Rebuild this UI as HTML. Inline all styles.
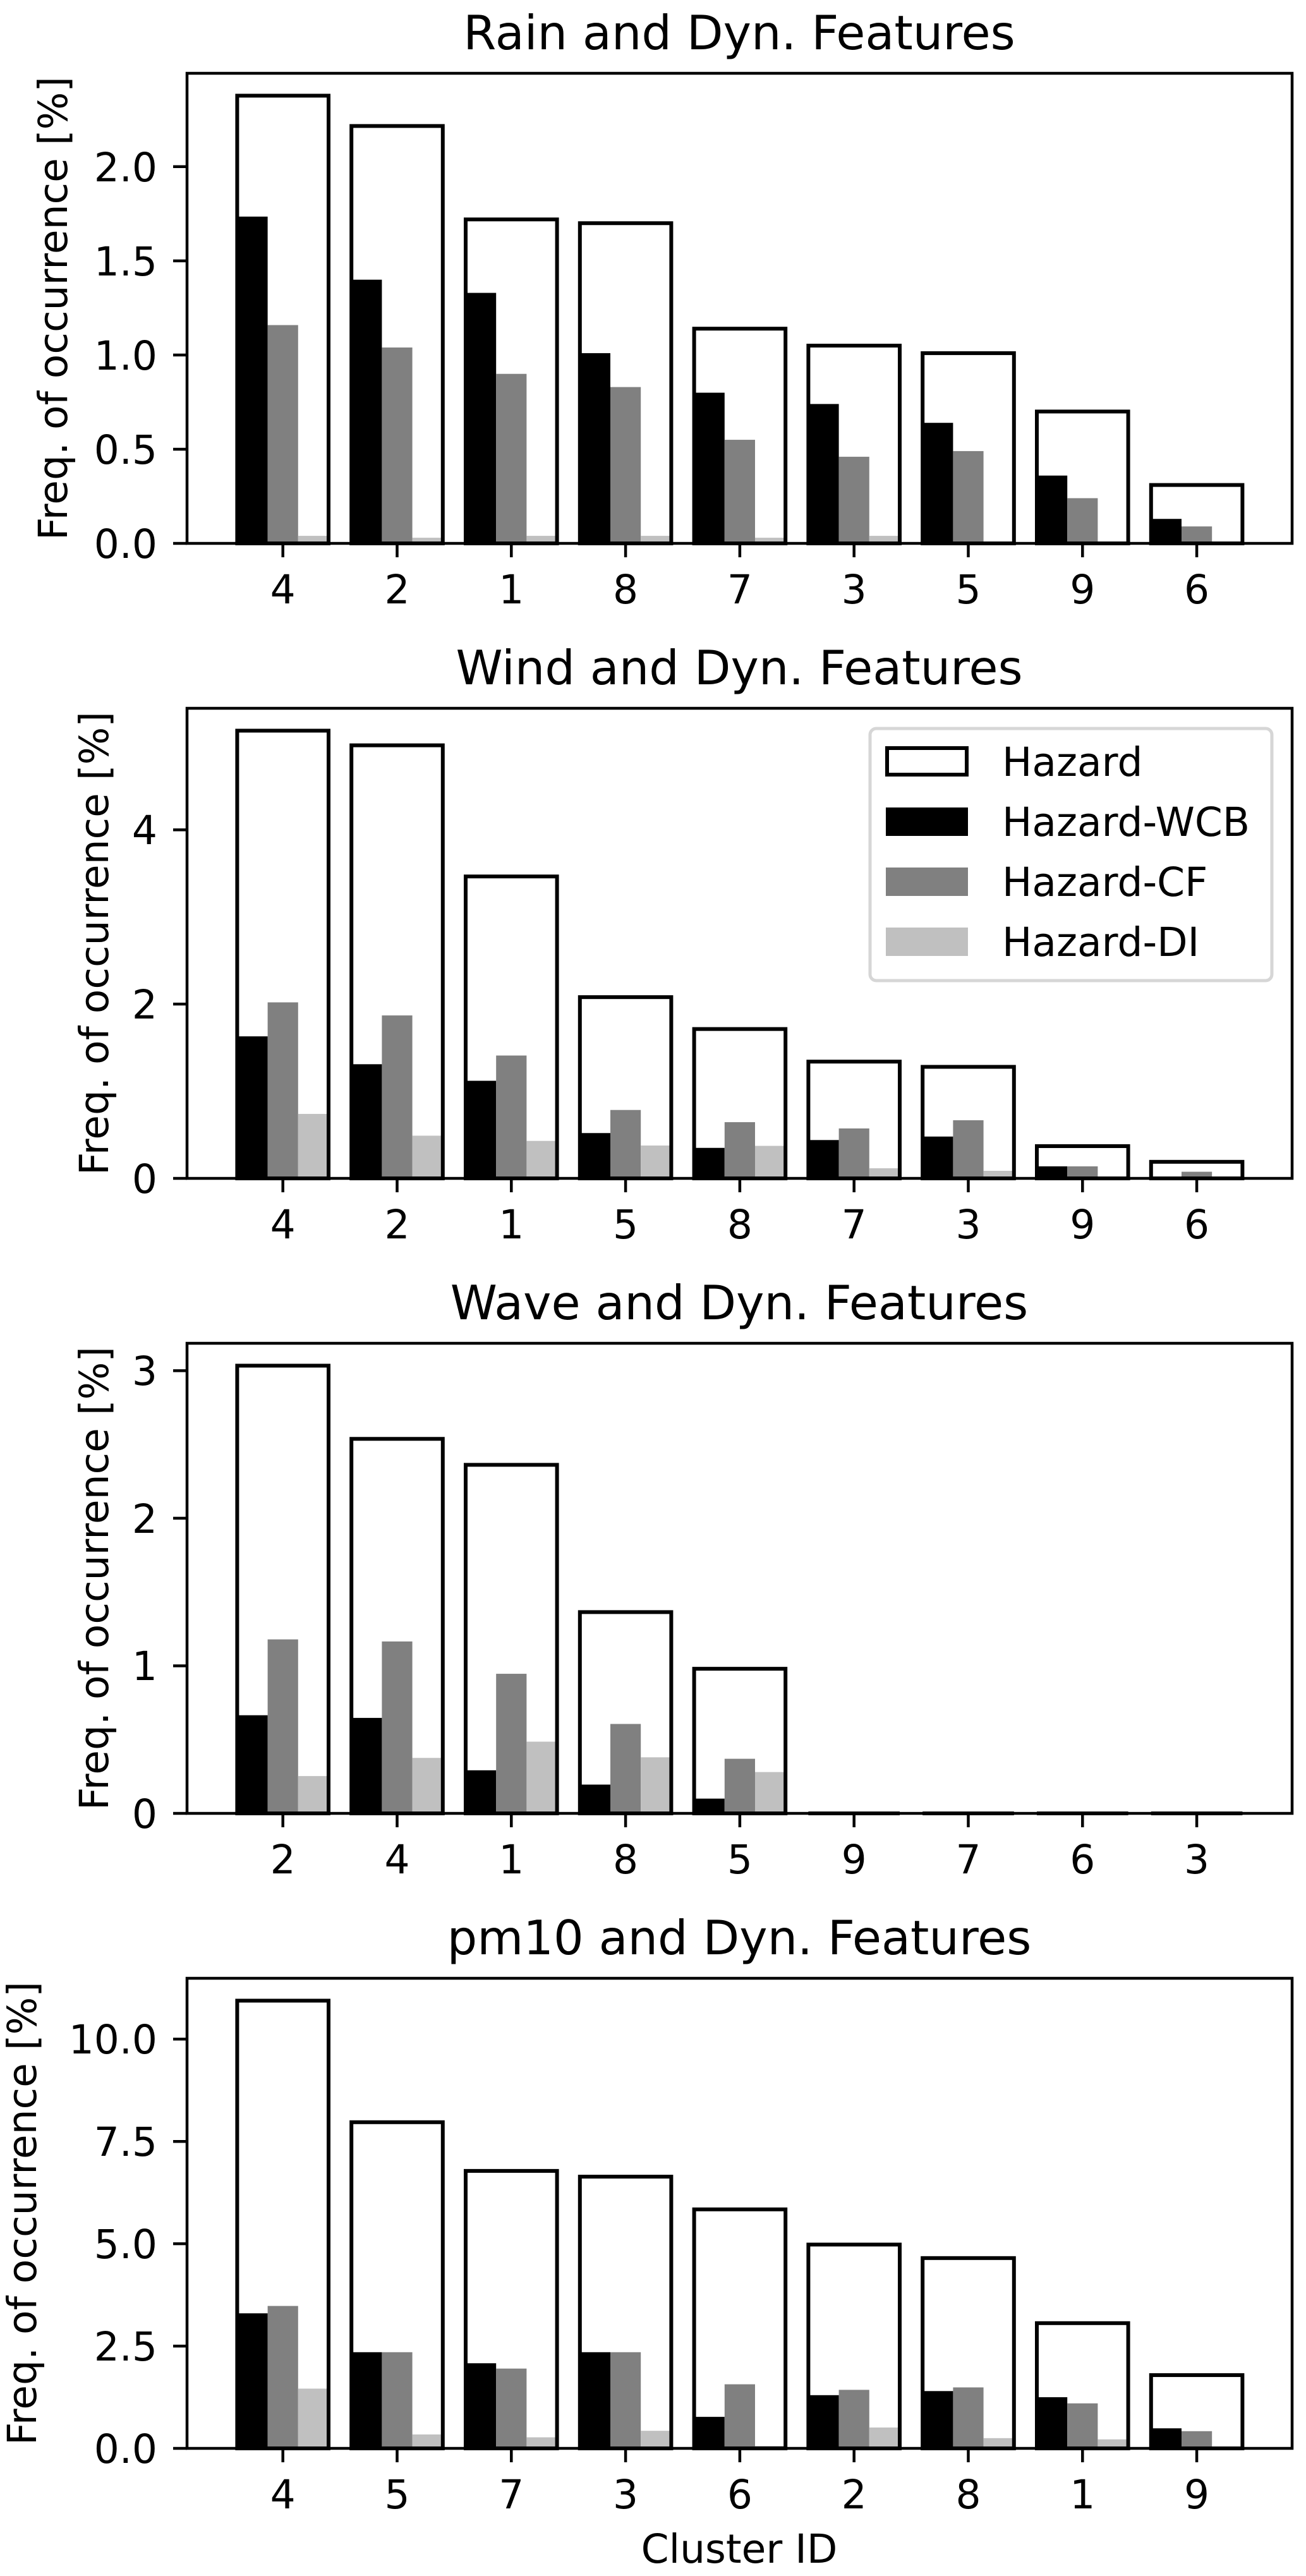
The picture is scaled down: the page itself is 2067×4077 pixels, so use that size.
<!DOCTYPE html>
<html><head><meta charset="utf-8"><style>
html,body{margin:0;padding:0;background:#fff;}
svg{display:block;}
text{font-family:"DejaVu Sans","Liberation Sans",sans-serif;fill:#000;}
.t{font-size:75px;text-anchor:middle;}
.yl{font-size:63px;text-anchor:end;}
.xl{font-size:63px;text-anchor:middle;}
.lab{font-size:63px;text-anchor:middle;}
.lg{font-size:63px;}
</style></head><body>
<svg id="s" width="2067" height="4077" viewBox="0 0 2067 4077" xmlns="http://www.w3.org/2000/svg">
<g id="bars"></g>
<g id="axes" fill="none" stroke="#000" stroke-width="4.5"></g>

<text class="t" x="1170" y="78">Rain and Dyn. Features</text>
<text class="t" x="1170" y="1083">Wind and Dyn. Features</text>
<text class="t" x="1170" y="2088">Wave and Dyn. Features</text>
<text class="t" x="1170" y="3093">pm10 and Dyn. Features</text>

<text class="lab" transform="translate(106,488) rotate(-90)">Freq. of occurrence [%]</text>
<text class="lab" transform="translate(171,1493) rotate(-90)">Freq. of occurrence [%]</text>
<text class="lab" transform="translate(171,2498) rotate(-90)">Freq. of occurrence [%]</text>
<text class="lab" transform="translate(57,3503) rotate(-90)">Freq. of occurrence [%]</text>

<text class="yl" x="249" y="883">0.0</text>
<text class="yl" x="249" y="734">0.5</text>
<text class="yl" x="249" y="585">1.0</text>
<text class="yl" x="249" y="436">1.5</text>
<text class="yl" x="249" y="287">2.0</text>

<text class="yl" x="249" y="1888">0</text>
<text class="yl" x="249" y="1612">2</text>
<text class="yl" x="249" y="1336">4</text>

<text class="yl" x="249" y="2893">0</text>
<text class="yl" x="249" y="2659">1</text>
<text class="yl" x="249" y="2426">2</text>
<text class="yl" x="249" y="2192">3</text>

<text class="yl" x="249" y="3898">0.0</text>
<text class="yl" x="249" y="3736">2.5</text>
<text class="yl" x="249" y="3574">5.0</text>
<text class="yl" x="249" y="3412">7.5</text>
<text class="yl" x="249" y="3250">10.0</text>

<g>
<text class="xl" x="447.7" y="955">4</text><text class="xl" x="628.5" y="955">2</text><text class="xl" x="809.3" y="955">1</text><text class="xl" x="990.1" y="955">8</text><text class="xl" x="1170.9" y="955">7</text><text class="xl" x="1351.7" y="955">3</text><text class="xl" x="1532.5" y="955">5</text><text class="xl" x="1713.3" y="955">9</text><text class="xl" x="1894.1" y="955">6</text>

<text class="xl" x="447.7" y="1960">4</text><text class="xl" x="628.5" y="1960">2</text><text class="xl" x="809.3" y="1960">1</text><text class="xl" x="990.1" y="1960">5</text><text class="xl" x="1170.9" y="1960">8</text><text class="xl" x="1351.7" y="1960">7</text><text class="xl" x="1532.5" y="1960">3</text><text class="xl" x="1713.3" y="1960">9</text><text class="xl" x="1894.1" y="1960">6</text>

<text class="xl" x="447.7" y="2965">2</text><text class="xl" x="628.5" y="2965">4</text><text class="xl" x="809.3" y="2965">1</text><text class="xl" x="990.1" y="2965">8</text><text class="xl" x="1170.9" y="2965">5</text><text class="xl" x="1351.7" y="2965">9</text><text class="xl" x="1532.5" y="2965">7</text><text class="xl" x="1713.3" y="2965">6</text><text class="xl" x="1894.1" y="2965">3</text>

<text class="xl" x="447.7" y="3970">4</text><text class="xl" x="628.5" y="3970">5</text><text class="xl" x="809.3" y="3970">7</text><text class="xl" x="990.1" y="3970">3</text><text class="xl" x="1170.9" y="3970">6</text><text class="xl" x="1351.7" y="3970">2</text><text class="xl" x="1532.5" y="3970">8</text><text class="xl" x="1713.3" y="3970">1</text><text class="xl" x="1894.1" y="3970">9</text>
</g>

<text class="xl" x="1170" y="4056">Cluster ID</text>

<rect x="1377" y="1153" width="636" height="399" rx="10" ry="10" fill="#fff" fill-opacity="0.8" stroke="#d6d6d6" stroke-width="5"/>
<rect x="1404" y="1184" width="126" height="42" fill="#fff" stroke="#000" stroke-width="6"/>
<rect x="1402" y="1278" width="130" height="45" fill="#000"/>
<rect x="1402" y="1373" width="130" height="45" fill="#808080"/>
<rect x="1402" y="1468" width="130" height="45" fill="#c0c0c0"/>
<text class="lg" x="1586" y="1228">Hazard</text>
<text class="lg" x="1586" y="1323">Hazard-WCB</text>
<text class="lg" x="1586" y="1418">Hazard-CF</text>
<text class="lg" x="1586" y="1513">Hazard-DI</text>
</svg>
<script>
(function(){
var NS="http://www.w3.org/2000/svg";
var bars=document.getElementById("bars"),axes=document.getElementById("axes");
var L=296,R=2045,H=744;
var xs=[];for(var i=0;i<9;i++)xs.push(447.7+180.8*i);
var panels=[
{top:116,ymax:2.377*1.05,ticks:[0,0.5,1,1.5,2],
 hz:[2.377,2.216,1.72,1.70,1.14,1.05,1.01,0.70,0.31],
 w:[1.735,1.40,1.33,1.01,0.80,0.74,0.64,0.36,0.13],
 c:[1.159,1.04,0.90,0.83,0.55,0.46,0.49,0.24,0.09],
 d:[0.04,0.03,0.04,0.04,0.03,0.04,0.0,0.0,0.0]},
{top:1121,ymax:5.138*1.05,ticks:[0,2,4],
 hz:[5.138,4.97,3.465,2.08,1.714,1.34,1.28,0.37,0.19],
 w:[1.63,1.31,1.12,0.52,0.35,0.44,0.48,0.138,0.01],
 c:[2.02,1.87,1.41,0.785,0.645,0.573,0.667,0.138,0.076],
 d:[0.74,0.49,0.43,0.377,0.373,0.116,0.087,0,0]},
{top:2126,ymax:3.034*1.05,ticks:[0,1,2,3],
 hz:[3.034,2.538,2.362,1.364,0.98,0,0,0,0],
 w:[0.665,0.647,0.292,0.195,0.10,0,0,0,0],
 c:[1.179,1.165,0.946,0.606,0.37,0,0,0,0],
 d:[0.253,0.376,0.486,0.38,0.28,0,0,0,0]},
{top:3131,ymax:10.94*1.05,ticks:[0,2.5,5,7.5,10],
 hz:[10.94,7.97,6.78,6.64,5.84,4.98,4.65,3.06,1.79],
 w:[3.30,2.35,2.08,2.35,0.77,1.30,1.40,1.25,0.49],
 c:[3.48,2.35,1.95,2.35,1.566,1.43,1.49,1.10,0.42],
 d:[1.46,0.34,0.27,0.43,0.06,0.51,0.25,0.22,0]}
];
function el(n,a,p){var e=document.createElementNS(NS,n);for(var k in a)e.setAttribute(k,a[k]);p.appendChild(e);return e;}
var hw=72.3,sw=48.2;
panels.forEach(function(p){
 var b=p.top+H,s=H/p.ymax;
 for(var i=0;i<9;i++){
  var c=xs[i],x0=c-hw;
  [[p.w,"#000"],[p.c,"#808080"],[p.d,"#c0c0c0"]].forEach(function(q,j){
   var h=q[0][i]*s;if(h>0.3)el("rect",{x:x0+j*sw,y:b-h,width:sw,height:h,fill:q[1]},bars);
  });
  var hh=p.hz[i]*s;
  if(hh>0.5)el("rect",{x:c-hw,y:b-hh,width:2*hw,height:hh,fill:"none",stroke:"#000","stroke-width":6},bars);
  else el("line",{x1:c-hw,y1:b,x2:c+hw,y2:b,stroke:"#000","stroke-width":6},bars);
  el("line",{x1:c,y1:b,x2:c,y2:b+22},axes);
 }
 el("rect",{x:L,y:p.top,width:R-L,height:H},axes);
 p.ticks.forEach(function(t){var y=b-t*s;el("line",{x1:L-22,y1:y,x2:L,y2:y},axes);});
});
})();
</script>
</body></html>
